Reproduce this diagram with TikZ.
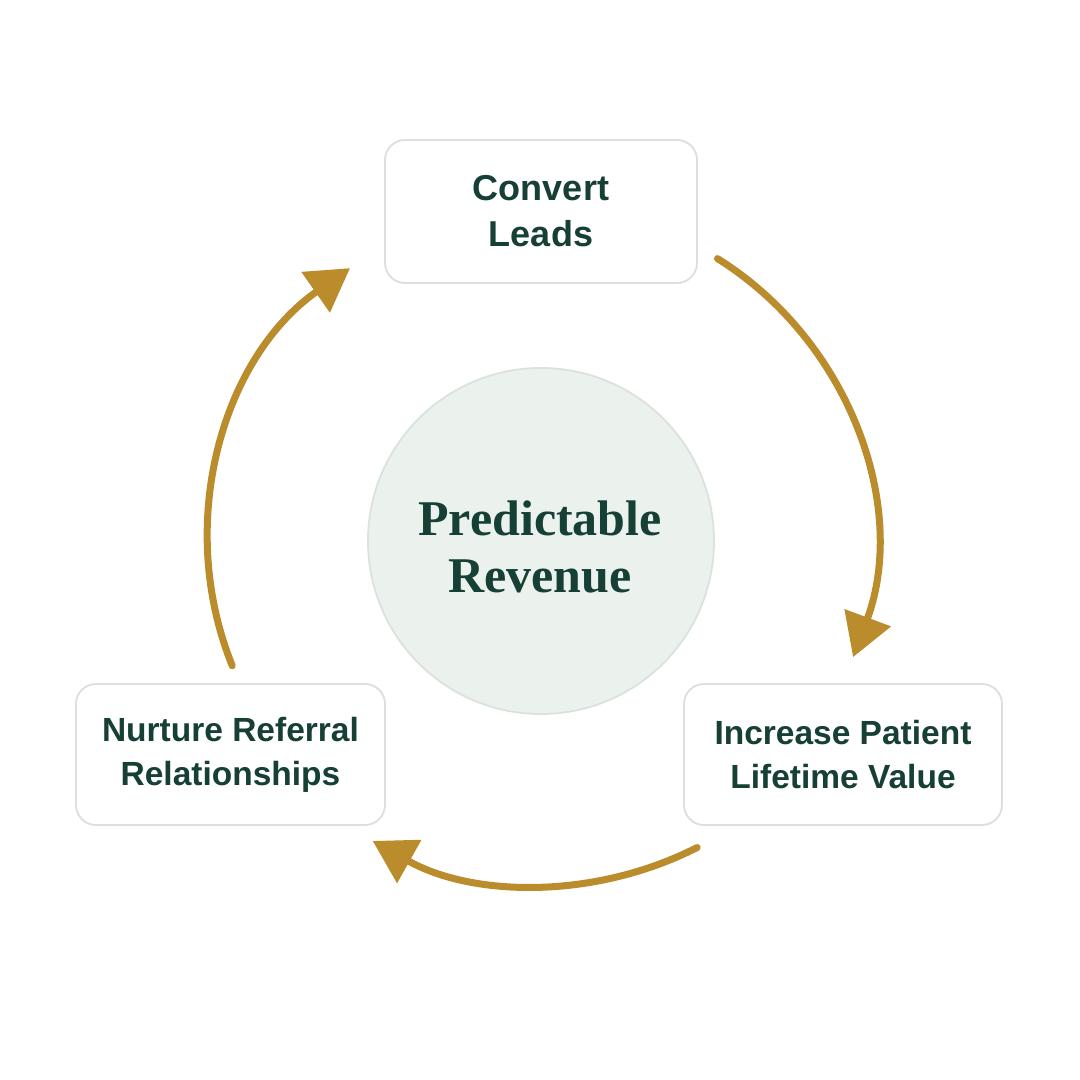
\documentclass[tikz,border=0pt]{standalone}
\usepackage{fontspec}
\setmainfont{Liberation Serif}
\setsansfont{Liberation Sans}
\usetikzlibrary{arrows.meta,calc}
\definecolor{txtgreen}{HTML}{163F35}
\definecolor{gold}{HTML}{BA8C2C}
\definecolor{circfill}{HTML}{EBF2ED}
\definecolor{circline}{HTML}{D9E3DC}
\definecolor{boxline}{HTML}{DEDEDE}
\tikzset{
  stepbox/.style={draw=boxline, line width=1.8pt, fill=white, rounded corners=20pt,
    align=center, text=txtgreen, font=\sffamily\bfseries\fontsize{33.5}{44}\selectfont, inner sep=0pt},
  hub/.style={circle, draw=circline, line width=1.8pt, fill=circfill, minimum size=346pt, inner sep=0pt},
  hubtxt/.style={align=center, text=txtgreen, font=\rmfamily\bfseries\fontsize{50}{57}\selectfont, inner sep=0pt},
  cyc/.style={draw=gold, line width=7pt, line cap=round, -{Triangle[length=42pt,width=48pt]}}
}
\begin{document}
\begin{tikzpicture}[x=1pt,y=1pt]
\useasboundingbox[fill=white] (0,0) rectangle (1080,1080);
\coordinate (c) at (541,539);
\node[hub] (hubnode) at (c) {};
\node[hubtxt] (hubtext) at (540,533) {Predictable\\Revenue};
\node[stepbox, minimum width=312pt, minimum height=143pt, font=\sffamily\bfseries\fontsize{36}{46}\selectfont] (convert) at (541,868.5) {Convert\\Leads};
\node[stepbox, minimum width=318pt, minimum height=141pt] (increase) at (843,325.5) {Increase Patient\\Lifetime Value};
\node[stepbox, minimum width=309pt, minimum height=141pt] (nurture) at (230.5,325.5) {Nurture Referral\\Relationships};
\coordinate (a1) at ($(c)+(58:333)$);
\coordinate (a2) at ($(c)+(-63:344)$);
\coordinate (a3) at ($(c)+(202:333)$);
\draw[cyc] (a1) arc[start angle=58, end angle=-20.4, radius=333];
\draw[cyc] (a2) arc[start angle=-63, end angle=-119.3, radius=344];
\draw[cyc] (a3) arc[start angle=202, end angle=125, radius=333];
\end{tikzpicture}
\end{document}
